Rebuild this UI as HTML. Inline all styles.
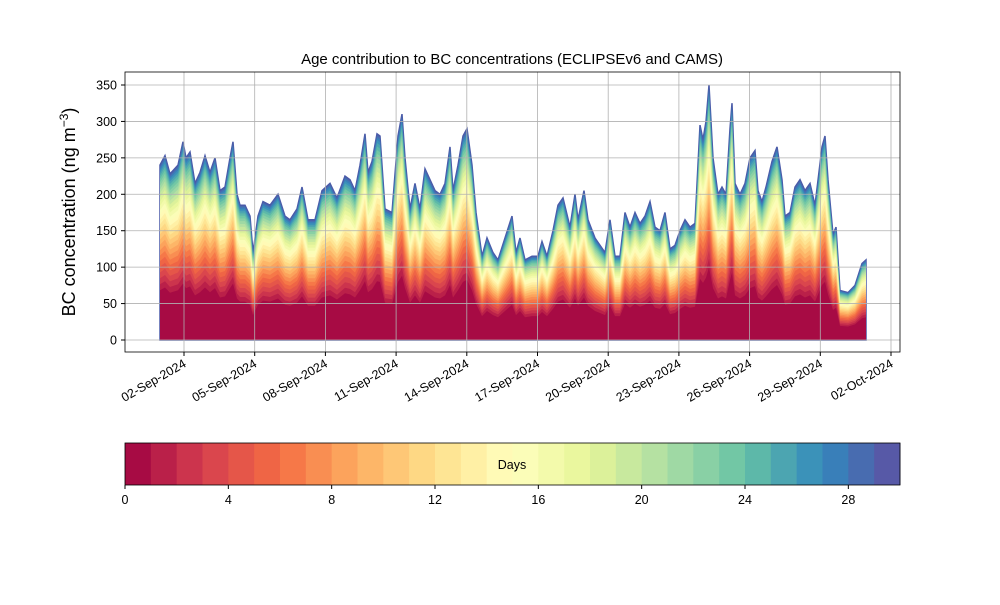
<!DOCTYPE html>
<html><head><meta charset="utf-8"><style>
body{margin:0;background:#fff;font-family:"Liberation Sans",sans-serif}
svg text{font-family:"Liberation Sans","DejaVu Sans",sans-serif}
</style></head><body>
<svg id="s" width="1000" height="600" xmlns="http://www.w3.org/2000/svg">
<rect width="1000" height="600" fill="#fff"/>
<g id="data"></g>
<g id="grid" stroke="#b0b0b0" stroke-width="0.8"></g>
<rect x="125" y="72" width="775" height="280" fill="none" stroke="#000" stroke-width="0.8"/>
<g id="ticks" font-size="12.5" fill="#000"></g>
<text x="512" y="64" font-size="15" text-anchor="middle">Age contribution to BC concentrations (ECLIPSEv6 and CAMS)</text>
<text transform="translate(75,212) rotate(-90)" font-size="18" text-anchor="middle">BC concentration (ng m<tspan font-size="12" dy="-7">−3</tspan><tspan dy="7">)</tspan></text>
<g id="cbar"></g>
<rect x="125" y="443" width="775" height="42" fill="none" stroke="#000" stroke-width="0.8"/>
<text x="512" y="469" font-size="12.5" text-anchor="middle">Days</text>
</svg>
<script>
const NS="http://www.w3.org/2000/svg";
function el(t,a,p){const e=document.createElementNS(NS,t);for(const k in a)e.setAttribute(k,a[k]);p.appendChild(e);return e;}
const stops=[[0,[158,1,66]],[.1,[213,62,79]],[.2,[244,109,67]],[.3,[253,174,97]],[.4,[254,224,139]],[.5,[255,255,191]],[.6,[230,245,152]],[.7,[171,221,164]],[.8,[102,194,165]],[.9,[50,136,189]],[1,[94,79,162]]];
function cm(t){for(let i=0;i<stops.length-1;i++){const a=stops[i],b=stops[i+1];if(t<=b[0]){const f=(t-a[0])/(b[0]-a[0]);return "rgb("+a[1].map((v,j)=>Math.round(v+(b[1][j]-v)*f)).join(",")+")";}}return "rgb(94,79,162)";}
const Y=v=>340-v*255/350;
const pts=[[160,240],[165,253],[170,228],[178,240],[183,272],[186,250],[190,258],[195,215],[200,230],[205,253],[210,230],[215,250],[220,205],[225,210],[230,250],[233,272],[237,200],[240,185],[245,185],[250,170],[253,120],[258,170],[263,190],[270,185],[278,200],[285,170],[290,165],[297,180],[302,210],[308,165],[315,165],[322,205],[330,215],[337,195],[345,225],[350,220],[355,205],[360,240],[365,283],[368,230],[372,245],[377,283],[380,280],[385,180],[392,175],[398,280],[402,310],[405,250],[410,180],[415,215],[420,180],[425,235],[430,220],[435,205],[440,200],[445,215],[450,265],[453,205],[458,240],[463,280],[467,290],[472,240],[476,175],[482,115],[487,140],[493,120],[498,110],[505,140],[512,170],[516,120],[520,140],[525,110],[532,115],[538,115],[542,135],[547,115],[553,150],[558,185],[563,195],[570,155],[575,200],[578,165],[584,205],[588,165],[595,140],[600,130],[605,120],[610,165],[615,115],[620,115],[625,175],[630,155],[635,175],[640,160],[645,170],[650,190],[655,155],[660,150],[665,175],[670,125],[675,130],[680,150],[685,165],[690,155],[695,160],[700,295],[703,275],[706,300],[709,350],[713,250],[718,200],[722,210],[726,200],[730,290],[732,325],[735,215],[740,200],[745,215],[750,250],[755,260],[758,205],[762,190],[766,210],[772,245],[777,265],[782,220],[785,170],[790,175],[795,210],[800,220],[805,205],[810,215],[815,185],[822,265],[825,280],[828,220],[833,145],[836,155],[840,68],[848,65],[855,75],[862,105],[866,110]];
const d=document.getElementById("data");
for(let k=30;k>=1;k--){const t=k/30;const g=0.25+0.75*(1-Math.pow(1-t,1.4));
let s="160,340 ";for(const [x,v] of pts)s+=x+","+Y(v*g).toFixed(1)+" ";s+="866,340";
el("polygon",{points:s,fill:cm((k-0.5)/30),stroke:k==30?"#4a5aa8":"none","stroke-width":1.5},d);}
const gr=document.getElementById("grid"),tk=document.getElementById("ticks");
for(let v=0;v<=350;v+=50){const y=Y(v);el("line",{x1:125,x2:900,y1:y,y2:y},gr);el("line",{x1:121,x2:125,y1:y,y2:y,stroke:"#000"},tk);const t=el("text",{x:117,y:y+4.5,"text-anchor":"end"},tk);t.textContent=v;}
const lab=["02-Sep-2024","05-Sep-2024","08-Sep-2024","11-Sep-2024","14-Sep-2024","17-Sep-2024","20-Sep-2024","23-Sep-2024","26-Sep-2024","29-Sep-2024","02-Oct-2024"];
lab.forEach((l,i)=>{const x=184+i*70.7;el("line",{x1:x,x2:x,y1:72,y2:352},gr);el("line",{x1:x,x2:x,y1:352,y2:356,stroke:"#000"},tk);const t=el("text",{transform:`translate(${x+3},${366}) rotate(-30)`,"text-anchor":"end"},tk);t.textContent=l;});
const cb=document.getElementById("cbar");const w=775/30;
for(let i=0;i<30;i++)el("rect",{x:125+i*w,y:443,width:w+0.5,height:42,fill:cm((i+0.5)/30)},cb);
for(let v=0;v<=28;v+=4){const x=125+v*w;el("line",{x1:x,x2:x,y1:485,y2:489,stroke:"#000"},cb);const t=el("text",{x:x,y:504,"text-anchor":"middle","font-size":"12.5"},cb);t.textContent=v;}
</script>
</body></html>
